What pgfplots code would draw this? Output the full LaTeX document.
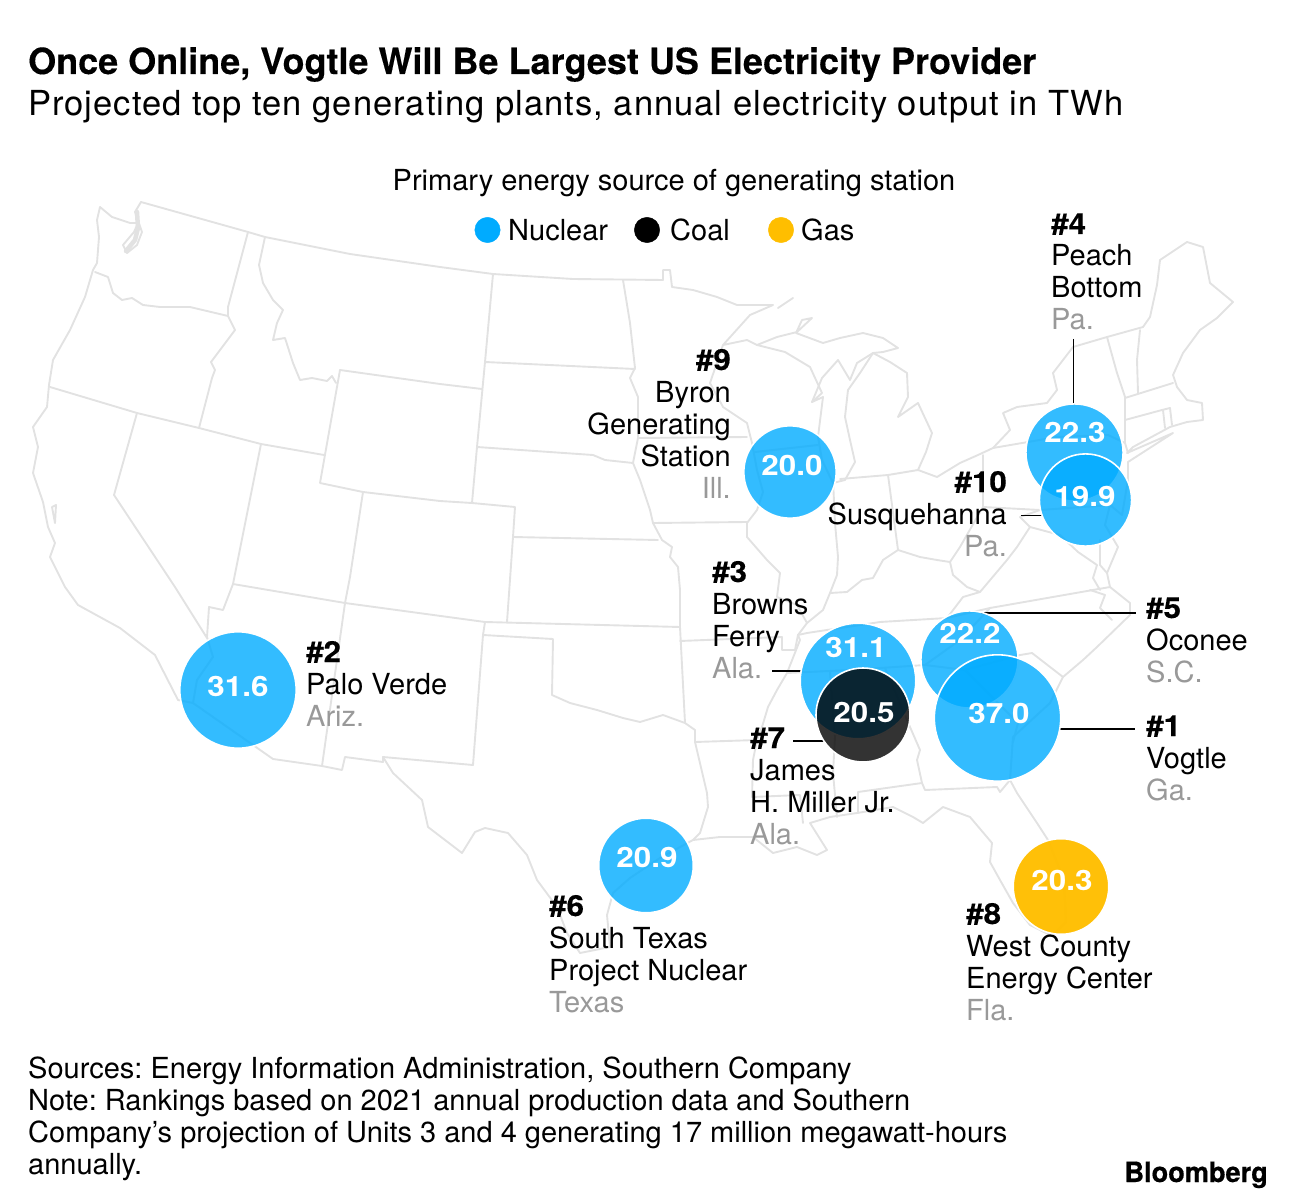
\documentclass[border=0pt]{standalone}
\usepackage{fontspec}
\usepackage{pgfplots}
\usepackage{pgfplotstable}
\pgfplotsset{compat=1.18}
\setmainfont{TeX Gyre Heros}
\newfontfamily\valfont[FakeStretch=1.12]{TeX Gyre Heros}
\newfontfamily\rankfont[FakeStretch=1.08,FakeBold=0.3]{TeX Gyre Heros}
\newfontfamily\subfont[LetterSpace=3]{TeX Gyre Heros}
\newfontfamily\heavy[FakeBold=0.25]{TeX Gyre Heros}
\newfontfamily\logofont[FakeBold=0.6,FakeStretch=0.97]{TeX Gyre Heros}
\definecolor{nuc}{HTML}{00ABFF}
\definecolor{gas}{HTML}{FFBE00}
\definecolor{maplin}{HTML}{E2E2E2}
\definecolor{sgrey}{HTML}{999999}
\frenchspacing
\tikzset{
  txt/.style={anchor=base west, inner sep=0pt, font=\fontsize{29}{32}\selectfont},
  rtxt/.style={anchor=base east, inner sep=0pt, font=\fontsize{29}{32}\selectfont},
}
\newcommand\rk{\rankfont\bfseries}

% plants: pixel position on the map, TWh, bubble radius, shift of the value label
\pgfplotstableread{
x      y     v     r     dx   dy
238    690   31.6  58.2  0    -6
646    865.5 20.9  47.3  1    -1.5
790    472   20.0  46.2  2    -3
1074.5 452.5 22.3  48.6  0.5  10.5
1085.5 500   19.9  46.1  -0.5 -6
858    681   31.1  57.8  -2   24
969.5  659.5 22.2  48.6  0.5  16.5
997.5  718   37.0  63.2  1.5  -5
}\nuclear
\pgfplotstableread{
x   y   v    r  dx dy
863 715 20.5 47 1  -7
}\coal
\pgfplotstableread{
x    y     v    r    dx dy
1061 886.5 20.3 47.8 1  -3.5
}\gasfired

\begin{document}
\begin{tikzpicture}
\begin{axis}[
  scale only axis, width=1296pt, height=1198pt,
  xmin=0, xmax=1296, ymin=0, ymax=1198, y dir=reverse,
  axis line style={draw=none}, ticks=none, clip=false,
  map/.style={draw=maplin, line width=1.9pt, line join=round, line cap=round, no markers},
  leader/.style={draw=black, line width=1.6pt, no markers},
  bubble/.style 2 args={scatter, only marks, mark=*, point meta=y,
    visualization depends on={\thisrow{r}\as\rad},
    scatter/@pre marker code/.code={\scope[mark size=\rad, draw=white, fill=#1, line width=1.6pt, fill opacity=#2]},
    scatter/@post marker code/.code={\endscope}},
  vals/.style={draw=none, no markers, point meta=\thisrow{v},
    visualization depends on={\thisrow{dx}\as\dx},
    visualization depends on={\thisrow{dy}\as\dy},
    nodes near coords,
    every node near coord/.append style={anchor=base, inner sep=0pt, text=white,
      font=\fontsize{28}{30}\valfont\bfseries, xshift=\dx pt, yshift=\dy pt,
      /pgf/number format/.cd, fixed, fixed zerofill, precision=1, assume math mode=true}},
  key/.style={only marks, mark=*, mark size=12.7pt, mark options={draw=#1, fill=#1}},
]
% outline: north border and lakes
\addplot[map] coordinates {(141,202)(248,232)(265,237)(350,254)(440,267)(493,274)(573,279)(663,280)(663,270)(670,270)(672,287)(693,290)(717,297)(737,305)(773,305)(750,315)(723,345)(747,340)(757,345)(777,337)(797,332)(812,318)(802,320)(796,333)(823,343)(840,338)(863,333)(883,338)(898,348)(883,352)(873,353)(857,363)(850,380)(838,360)(822,378)(812,402)};
\addplot[map] coordinates {(778,308)(793,298)};
\addplot[map] coordinates {(757,345)(785,352)(810,367)(822,393)(812,402)(823,397)(818,437)(822,460)(833,483)(845,480)};
% lower michigan
\addplot[map] coordinates {(845,480)(855,462)(850,440)(845,417)(848,390)(860,373)(873,353)(890,362)(907,373)(908,397)(898,417)(918,403)(932,433)(926,452)(918,470)};
% great lakes east, new england
\addplot[map] coordinates {(918,470)(937,477)(960,463)(978,455)(993,448)(1010,430)(1003,413)(1017,407)(1047,403)(1057,390)(1053,373)(1073,347)(1107,337)(1143,327)(1150,317)(1157,285)(1160,260)(1187,242)(1203,247)(1210,283)(1233,302)(1217,318)(1200,330)(1183,353)(1173,375)(1177,387)(1187,400)(1202,403)(1203,420)(1187,422)(1170,427)(1133,447)(1127,453)(1173,433)(1128,462)(1128,480)(1122,515)(1110,505)(1105,525)(1118,547)(1107,573)(1110,587)(1130,603)(1130,615)(1097,647)(1083,660)(1063,677)(1050,703)(1013,737)(1010,780)(1017,793)(1037,823)(1048,840)(1064,880)(1066,922)(1052,936)(1030,925)(1013,903)(1000,880)(990,862)(992,843)(970,817)(943,807)(923,823)(913,817)(893,807)(857,813)(830,817)(810,823)(827,850)(817,855)(797,847)(773,853)(753,837)(720,837)(693,840)(660,858)(630,878)(613,893)(607,915)(610,947)(580,953)(567,933)(557,907)(537,880)(527,855)(508,833)(485,828)(475,832)(462,853)(428,827)(422,800)(393,773)(383,757)};
% west coast
\addplot[map] coordinates {(141,202)(135,212)(142,232)(137,245)(127,253)(123,245)(134,232)(138,223)(130,223)(112,217)(100,207)(97,220)(99,237)(98,250)(97,263)(93,270)(85,297)(70,330)(53,360)(49,385)(47,407)(33,427)(38,447)(33,473)(43,502)(48,527)(55,543)(50,557)(65,587)(78,605)(120,628)(155,655)(178,700)(193,703)};
\addplot[map, line width=4.5pt] coordinates {(137,212)(138,228)(135,240)(126,251)};
\addplot[map] coordinates {(52,507)(56,505)(55,523)(52,507)};
% southwest and mexico
\addplot[map] coordinates {(193,703)(273,759)(322,766)(342,770)(345,757)(383,762)(383,757)(473,765)(483,635)(553,639)(552,695)(570,703)(597,710)(623,718)(640,722)(663,715)(685,723)(695,730)(695,742)(707,793)(708,807)(700,833)(693,840)};
\addplot[map] coordinates {(233,584)(345,603)(485,622)(680,627)(685,723)};
\addplot[map] coordinates {(485,622)(483,635)};
\addplot[map] coordinates {(345,603)(322,766)};
\addplot[map] coordinates {(233,584)(223,610)(209,607)(207,637)(213,657)(197,680)(193,703)};
\addplot[map] coordinates {(137,413)(114,495)(175,587)(207,638)};
\addplot[map] coordinates {(50,387)(137,413)(199,428)(261,444)(324,455)};
\addplot[map] coordinates {(261,444)(233,584)};
% northwest
\addplot[map] coordinates {(248,232)(228,307)(228,316)(235,330)(220,350)(211,362)(215,370)(212,378)(199,428)};
\addplot[map] coordinates {(95,272)(108,277)(113,293)(122,300)(132,298)(143,305)(160,307)(190,307)(228,316)};
\addplot[map] coordinates {(265,237)(259,265)(263,283)(273,300)(283,310)(277,323)(273,340)(285,338)(293,363)(300,380)(312,378)(327,381)(332,376)(336,383)};
% rockies and plains
\addplot[map] coordinates {(340,370)(320,483)(363,492)(440,501)(472,503)(515,507)(513,537)(658,540)};
\addplot[map] coordinates {(340,370)(440,384)(482,389)};
\addplot[map] coordinates {(363,492)(350,577)(345,603)};
\addplot[map] coordinates {(493,274)(485,362)(635,369)};
\addplot[map] coordinates {(485,362)(477,447)(472,503)};
\addplot[map] coordinates {(477,447)(593,455)(605,460)(633,463)(640,480)(650,510)(653,523)(662,540)(672,547)(670,557)(678,567)(680,590)(680,627)};
\addplot[map] coordinates {(513,537)(507,622)};
\addplot[map] coordinates {(623,280)(630,323)(635,368)(630,378)(638,397)(638,438)(633,463)};
\addplot[map] coordinates {(638,438)(747,437)};
\addplot[map] coordinates {(653,523)(747,522)};
% mississippi and midwest
\addplot[map] coordinates {(723,345)(710,383)(723,407)(747,423)(752,443)(757,470)(763,492)(757,510)(747,523)(747,537)(767,560)(780,573)(777,597)(797,605)(807,623)(798,635)(800,640)(787,673)(777,690)(768,707)(762,727)(757,740)(753,760)(752,797)(800,795)(803,823)};
\addplot[map] coordinates {(755,452)(818,445)};
\addplot[map] coordinates {(680,641)(782,637)(782,650)(795,650)(798,635)};
\addplot[map] coordinates {(695,742)(757,740)};
\addplot[map] coordinates {(833,480)(835,523)(838,557)(837,575)(830,593)(823,610)(807,623)};
\addplot[map] coordinates {(830,593)(847,592)(862,580)(873,578)(883,560)(898,550)(920,557)(937,560)(950,562)(960,547)(968,533)(983,507)(983,455)};
\addplot[map] coordinates {(840,479)(888,475)(918,470)};
\addplot[map] coordinates {(888,475)(898,550)};
% southeast
\addplot[map] coordinates {(798,635)(807,633)(880,622)(947,618)(990,608)(1110,587)};
\addplot[map] coordinates {(787,673)(850,670)(925,665)(965,670)(1020,655)(1032,653)(1063,677)};
\addplot[map] coordinates {(990,608)(960,640)(925,665)};
\addplot[map] coordinates {(965,670)(990,695)(1018,723)(1013,742)};
\addplot[map] coordinates {(885,668)(910,727)(920,750)(917,760)(922,783)(925,790)(997,787)(1000,792)(1010,780)};
\addplot[map] coordinates {(922,783)(858,792)(858,813)};
\addplot[map] coordinates {(830,672)(835,737)(833,773)(837,817)};
% appalachians and mid-atlantic
\addplot[map] coordinates {(950,562)(953,575)(967,587)(980,592)(1007,560)(1017,547)(1030,527)(1020,517)(1040,510)};
\addplot[map] coordinates {(947,618)(963,597)(980,592)};
\addplot[map] coordinates {(983,507)(1040,510)(1112,505)};
\addplot[map] coordinates {(993,448)(1057,437)(1108,435)(1125,443)};
\addplot[map] coordinates {(1030,527)(1060,535)(1078,552)(1097,565)(1093,578)(1100,590)};
\addplot[map] coordinates {(1100,540)(1100,565)(1107,573)};
\addplot[map] coordinates {(1090,590)(1105,595)(1100,608)(1112,620)};
% new england borders
\addplot[map] coordinates {(1107,337)(1117,373)(1125,397)(1125,443)(1128,453)};
\addplot[map] coordinates {(1125,398)(1173,383)};
\addplot[map] coordinates {(1140,330)(1137,360)(1138,393)};
\addplot[map] coordinates {(1125,420)(1162,410)(1170,408)(1172,425)};
\addplot[map] coordinates {(1163,410)(1165,428)};

% leader lines
\addplot[leader] coordinates {(1073.5,339)(1073.5,404)};
\addplot[leader] coordinates {(1021,515.5)(1042,515.5)};
\addplot[leader] coordinates {(981,613)(1136,613)};
\addplot[leader] coordinates {(772,671)(802,671)};
\addplot[leader] coordinates {(1060,729)(1135,729)};
\addplot[leader] coordinates {(793,741)(824,741)};

% bubbles
\addplot[bubble={nuc}{.8}] table[x=x, y=y] {\nuclear};
\addplot[bubble={black}{.8}] table[x=x, y=y] {\coal};
\addplot[bubble={gas}{.97}] table[x=x, y=y] {\gasfired};
\addplot[vals] table[x=x, y=y] {\nuclear};
\addplot[vals] table[x=x, y=y] {\coal};
\addplot[vals] table[x=x, y=y] {\gasfired};

% legend
\addplot[key=nuc] coordinates {(487.5,230)};
\addplot[key=black] coordinates {(647,230)};
\addplot[key=gas] coordinates {(781,230)};

% titles
\node[txt, font=\fontsize{36}{38}\heavy\bfseries] at (axis cs:28,74) {Once Online, Vogtle Will Be Largest US Electricity Provider};
\node[txt, font=\fontsize{34.5}{36}\subfont] at (axis cs:28,116) {Projected top ten generating plants, annual electricity output in TWh};
\node[txt, anchor=base] at (axis cs:674,191) {Primary energy source of generating station};
\node[txt] at (axis cs:508,241) {Nuclear};
\node[txt] at (axis cs:670,241) {Coal};
\node[txt] at (axis cs:801,241) {Gas};

% plant labels
\node[txt] at (axis cs:1051,234) {\rk\#4};
\node[txt] at (axis cs:1051,266) {Peach};
\node[txt] at (axis cs:1051,298) {Bottom};
\node[txt, text=sgrey] at (axis cs:1051,330) {Pa.};
\node[rtxt] at (axis cs:731,370) {\rk\#9};
\node[rtxt] at (axis cs:731,402) {Byron};
\node[rtxt] at (axis cs:731,434) {Generating};
\node[rtxt] at (axis cs:731,466) {Station};
\node[rtxt, text=sgrey] at (axis cs:731,498) {Ill.};
\node[rtxt] at (axis cs:1007,492) {\rk\#10};
\node[rtxt] at (axis cs:1007,524) {Susquehanna};
\node[rtxt, text=sgrey] at (axis cs:1007,556) {Pa.};
\node[txt] at (axis cs:1146,618) {\rk\#5};
\node[txt] at (axis cs:1146,650) {Oconee};
\node[txt, text=sgrey] at (axis cs:1146,682) {S.C.};
\node[txt] at (axis cs:712,582) {\rk\#3};
\node[txt] at (axis cs:712,614) {Browns};
\node[txt] at (axis cs:712,646) {Ferry};
\node[txt, text=sgrey] at (axis cs:712,678) {Ala.};
\node[txt] at (axis cs:306,662) {\rk\#2};
\node[txt] at (axis cs:306,694) {Palo Verde};
\node[txt, text=sgrey] at (axis cs:306,726) {Ariz.};
\node[txt] at (axis cs:1146,736) {\rk\#1};
\node[txt] at (axis cs:1146,768) {Vogtle};
\node[txt, text=sgrey] at (axis cs:1146,800) {Ga.};
\node[txt] at (axis cs:750,748) {\rk\#7};
\node[txt] at (axis cs:750,780) {James};
\node[txt] at (axis cs:750,812) {H. Miller Jr.};
\node[txt, text=sgrey] at (axis cs:750,844) {Ala.};
\node[txt] at (axis cs:549,916) {\rk\#6};
\node[txt] at (axis cs:549,948) {South Texas};
\node[txt] at (axis cs:549,980) {Project Nuclear};
\node[txt, text=sgrey] at (axis cs:549,1012) {Texas};
\node[txt] at (axis cs:966,924) {\rk\#8};
\node[txt] at (axis cs:966,956) {West County};
\node[txt] at (axis cs:966,988) {Energy Center};
\node[txt, text=sgrey] at (axis cs:966,1020) {Fla.};

% footer
\node[txt] at (axis cs:28,1078) {Sources: Energy Information Administration, Southern Company};
\node[txt] at (axis cs:28,1110) {Note: Rankings based on 2021 annual production data and Southern};
\node[txt] at (axis cs:28,1142) {Company’s projection of Units 3 and 4 generating 17 million megawatt-hours};
\node[txt] at (axis cs:28,1174) {annually.};
\node[anchor=base east, inner sep=0pt, font=\fontsize{28}{30}\logofont\bfseries] at (axis cs:1268,1182) {Bloomberg};
\end{axis}
\end{tikzpicture}
\end{document}
